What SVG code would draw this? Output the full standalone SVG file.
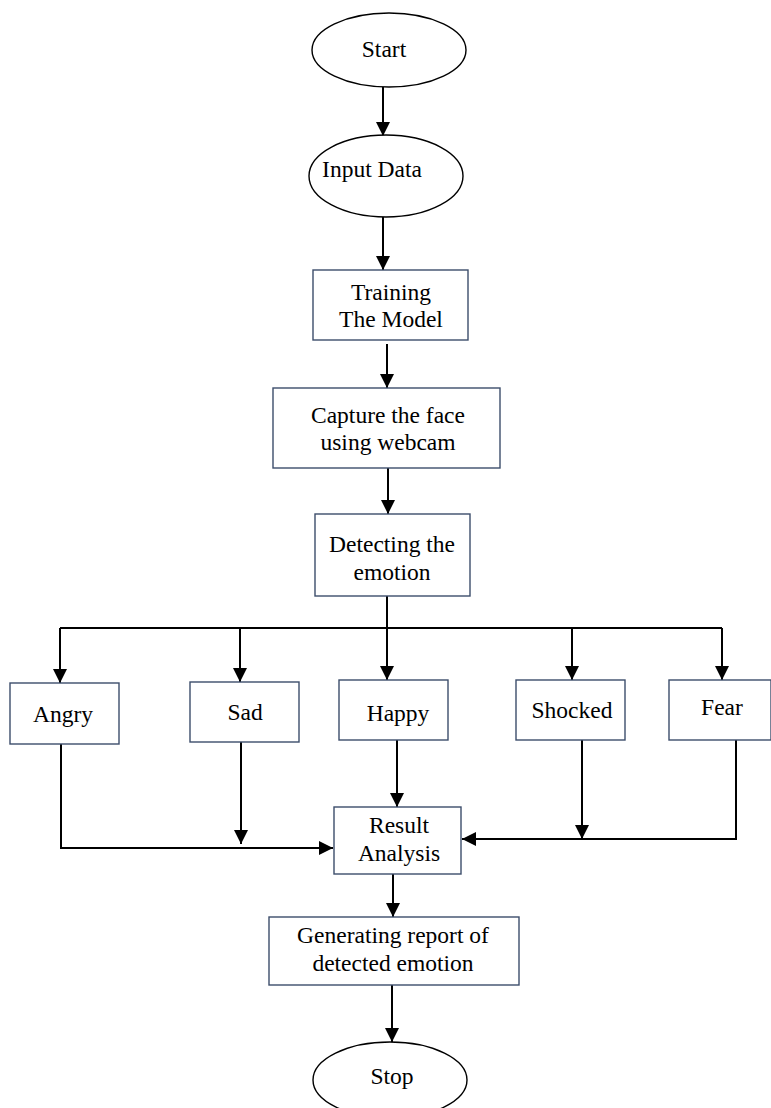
<svg xmlns="http://www.w3.org/2000/svg" width="771" height="1108" viewBox="0 0 771 1108">
<style>
.box{fill:#fff;stroke:#3c4d6b;stroke-width:1.4}
.ell{fill:#fff;stroke:#000;stroke-width:1.4}
.t{font-family:"Liberation Serif","Times New Roman",serif;font-size:23.5px;fill:#000;text-anchor:middle}
.c{fill:none;stroke:#000;stroke-width:2}
</style>
<defs>
<marker id="ah" markerUnits="userSpaceOnUse" markerWidth="14" markerHeight="14" viewBox="0 0 14 14" refX="14" refY="7" orient="auto">
<path d="M0,0 L14,7 L0,14 Z" fill="#000"/>
</marker>
</defs>
<rect width="771" height="1108" fill="#fff"/>
<g id="connectors">
<line class="c" x1="383" y1="87" x2="383" y2="136" marker-end="url(#ah)"/>
<line class="c" x1="383" y1="217" x2="383" y2="270" marker-end="url(#ah)"/>
<line class="c" x1="387" y1="344" x2="387" y2="388" marker-end="url(#ah)"/>
<line class="c" x1="388" y1="468" x2="388" y2="514" marker-end="url(#ah)"/>
<line class="c" x1="387" y1="596" x2="387" y2="680" marker-end="url(#ah)"/>
<line class="c" x1="60" y1="628" x2="722" y2="628"/>
<line class="c" x1="60" y1="628" x2="60" y2="683" marker-end="url(#ah)"/>
<line class="c" x1="240" y1="628" x2="240" y2="682" marker-end="url(#ah)"/>
<line class="c" x1="572" y1="628" x2="572" y2="680" marker-end="url(#ah)"/>
<line class="c" x1="722" y1="628" x2="722" y2="680" marker-end="url(#ah)"/>
<polyline class="c" points="61,744 61,848 333,848" marker-end="url(#ah)"/>
<line class="c" x1="241" y1="742" x2="241" y2="844" marker-end="url(#ah)"/>
<line class="c" x1="397" y1="740" x2="397" y2="807" marker-end="url(#ah)"/>
<line class="c" x1="582" y1="740" x2="582" y2="839" marker-end="url(#ah)"/>
<polyline class="c" points="736,740 736,839 462,839" marker-end="url(#ah)"/>
<line class="c" x1="393" y1="874" x2="393" y2="917" marker-end="url(#ah)"/>
<line class="c" x1="392" y1="985" x2="392" y2="1042" marker-end="url(#ah)"/>
</g>
<g id="start"><ellipse class="ell" cx="389" cy="50" rx="77" ry="37"/><text class="t" x="384" y="57">Start</text></g>
<g id="input"><ellipse class="ell" cx="386" cy="176" rx="77" ry="41"/><text class="t" x="372" y="177">Input Data</text></g>
<g id="training"><rect class="box" x="313" y="270" width="155" height="70"/><text class="t" x="391" y="300">Training</text><text class="t" x="391" y="327">The Model</text></g>
<g id="capture"><rect class="box" x="273" y="388" width="227" height="80"/><text class="t" x="388" y="423">Capture the face</text><text class="t" x="388" y="450">using webcam</text></g>
<g id="detecting"><rect class="box" x="315" y="514" width="155" height="82"/><text class="t" x="392" y="552">Detecting the</text><text class="t" x="392" y="580">emotion</text></g>
<g id="angry"><rect class="box" x="10" y="683" width="109" height="61"/><text class="t" x="63" y="722">Angry</text></g>
<g id="sad"><rect class="box" x="190" y="682" width="109" height="60"/><text class="t" x="245" y="720">Sad</text></g>
<g id="happy"><rect class="box" x="339" y="680" width="109" height="60"/><text class="t" x="398" y="721">Happy</text></g>
<g id="shocked"><rect class="box" x="516" y="680" width="109" height="60"/><text class="t" x="572" y="718">Shocked</text></g>
<g id="fear"><rect class="box" x="669" y="680" width="102" height="60"/><text class="t" x="722" y="715">Fear</text></g>
<g id="result"><rect class="box" x="334" y="807" width="127" height="67"/><text class="t" x="399" y="833">Result</text><text class="t" x="399" y="861">Analysis</text></g>
<g id="report"><rect class="box" x="269" y="917" width="250" height="68"/><text class="t" x="393" y="943">Generating report of</text><text class="t" x="393" y="971">detected emotion</text></g>
<g id="stop"><ellipse class="ell" cx="390" cy="1080" rx="77" ry="38"/><text class="t" x="392" y="1084">Stop</text></g>
</svg>
